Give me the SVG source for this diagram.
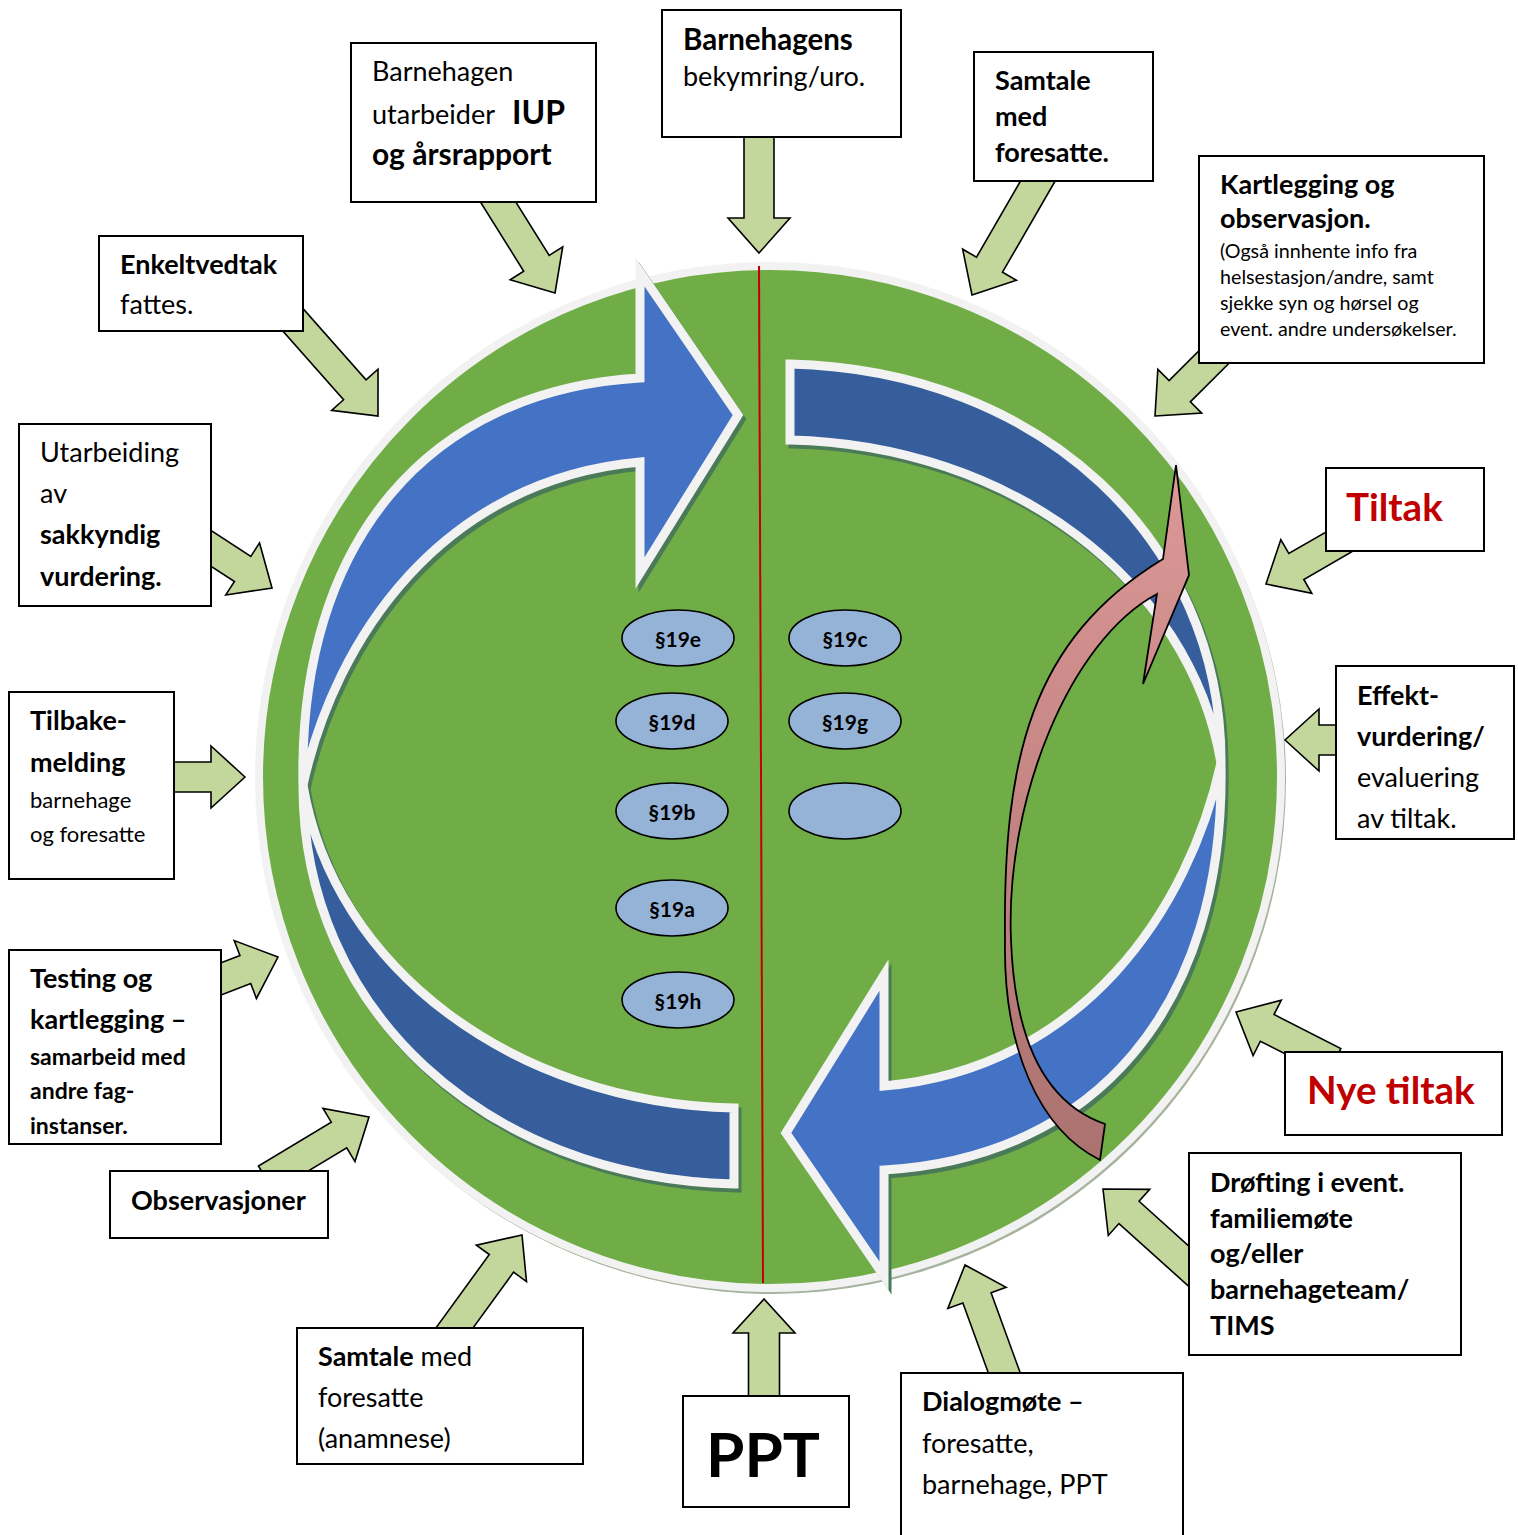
<svg xmlns="http://www.w3.org/2000/svg" width="1518" height="1535" viewBox="0 0 1518 1535">
<defs>
<style>
.t{font-family:Lato,'Liberation Sans',sans-serif;font-size:27px;fill:#000}
.b{font-weight:700}
.s19{font-size:22px}
.s22b{font-size:23px;font-weight:700}
.sm{font-size:19.7px}
.red{fill:#C00000;font-weight:700;font-size:38.5px}
.box{fill:#fff;stroke:#000;stroke-width:2}
.ga{fill:#C3D69B;stroke:#000;stroke-width:1.6;stroke-linejoin:miter}
.ov{fill:#95B3D7;stroke:#000;stroke-width:1.6}
.ot{font-family:Lato,'Liberation Sans',sans-serif;font-size:21px;font-weight:700;text-anchor:middle;fill:#000}
.light{fill:#4472C4;stroke:#F2F2F2;stroke-width:9;stroke-linejoin:miter}
.dark{fill:#365E9C;stroke:#F2F2F2;stroke-width:9;stroke-linejoin:miter}
.sh{fill:#4B7A58;stroke:#4B7A58;stroke-width:9}
</style>
<linearGradient id="pink" x1="0" y1="0" x2="0" y2="1">
<stop offset="0" stop-color="#DC9896"/>
<stop offset="1" stop-color="#AB7270"/>
</linearGradient>
<clipPath id="clipg"><rect x="780" y="690" width="130" height="44"/></clipPath>
<path id="ulArrow" d="M 303,785 C 298,540 430,390 640,378 L 640,272 L 738,415 L 640,573 L 640,462 C 440,480 335,640 303,785 Z"/>
<path id="urBand" d="M 790,364 C 1040,370 1222,540 1221,763 C 1190,580 1010,445 790,440 Z"/>
</defs>

<g id="cycle">
<circle cx="772" cy="780" r="514" fill="#A7B39E"/>
<circle cx="770" cy="777" r="511" fill="#70AD47" stroke="#F2F2F2" stroke-width="8"/>
<line x1="759" y1="266" x2="763" y2="1283" stroke="#C00000" stroke-width="2"/>
<g transform="translate(3,4)">
<use href="#ulArrow" class="sh"/>
<use href="#urBand" class="sh"/>
<g transform="rotate(180 762 774)"><use href="#ulArrow" class="sh"/><use href="#urBand" class="sh"/></g>
</g>
<use href="#urBand" class="dark"/>
<use href="#ulArrow" class="light"/>
<g transform="rotate(180 762 774)">
<use href="#urBand" class="dark"/>
<use href="#ulArrow" class="light"/>
</g>
</g>

<g id="paragraphs">
<g id="p19e"><ellipse class="ov" cx="678" cy="638" rx="56" ry="28"/><text class="ot" x="678" y="647">§19e</text></g>
<g id="p19c"><ellipse class="ov" cx="845" cy="638" rx="56" ry="28"/><text class="ot" x="845" y="647">§19c</text></g>
<g id="p19d"><ellipse class="ov" cx="672" cy="721" rx="56" ry="28"/><text class="ot" x="672" y="730">§19d</text></g>
<g id="p19g"><ellipse class="ov" cx="845" cy="721" rx="56" ry="28"/><text class="ot" x="845" y="730" clip-path="url(#clipg)">§19g</text></g>
<g id="p19b"><ellipse class="ov" cx="672" cy="811" rx="56" ry="28"/><text class="ot" x="672" y="820">§19b</text></g>
<g id="pempty"><ellipse class="ov" cx="845" cy="811" rx="56" ry="28"/></g>
<g id="p19a"><ellipse class="ov" cx="672" cy="908" rx="56" ry="28"/><text class="ot" x="672" y="917">§19a</text></g>
<g id="p19h"><ellipse class="ov" cx="678" cy="1000" rx="56" ry="28"/><text class="ot" x="678" y="1009">§19h</text></g>
</g>

<g id="pinkArrow">
<path d="M 1176,465 L 1189,575 L 1143,684 L 1157,594 C 1070,640 1005,800 1011,940 C 1015,1050 1050,1105 1105,1124 L 1100,1160 C 1040,1130 1003,1050 1005,940 C 1003,760 1030,640 1163,559 Z" fill="url(#pink)" stroke="#000" stroke-width="1.8" stroke-linejoin="miter"/>
</g>

<g id="connectors">
<path class="ga" transform="translate(759,253) rotate(90)" d="M0,0 L-35,-31 L-35,-15 L-125,-15 L-125,15 L-35,15 L-35,31 Z"/>
<path class="ga" transform="translate(972,295) rotate(120)" d="M0,0 L-35,-31 L-35,-15 L-145,-15 L-145,15 L-35,15 L-35,31 Z"/>
<path class="ga" transform="translate(555,293) rotate(58)" d="M0,0 L-35,-31 L-35,-15 L-125,-15 L-125,15 L-35,15 L-35,31 Z"/>
<path class="ga" transform="translate(378,416) rotate(48.5)" d="M0,0 L-35,-31 L-35,-15 L-130,-15 L-130,15 L-35,15 L-35,31 Z"/>
<path class="ga" transform="translate(272,588) rotate(33)" d="M0,0 L-35,-31 L-35,-15 L-90,-15 L-90,15 L-35,15 L-35,31 Z"/>
<path class="ga" transform="translate(245,777) rotate(0)" d="M0,0 L-34,-31 L-34,-15 L-80,-15 L-80,15 L-34,15 L-34,31 Z"/>
<path class="ga" transform="translate(278,957) rotate(-21)" d="M0,0 L-35,-31 L-35,-15 L-75,-15 L-75,15 L-35,15 L-35,31 Z"/>
<path class="ga" transform="translate(369,1117) rotate(-31)" d="M0,0 L-35,-31 L-35,-15 L-120,-15 L-120,15 L-35,15 L-35,31 Z"/>
<path class="ga" transform="translate(522,1235) rotate(-54)" d="M0,0 L-35,-31 L-35,-15 L-125,-15 L-125,15 L-35,15 L-35,31 Z"/>
<path class="ga" transform="translate(764,1299) rotate(-90)" d="M0,0 L-34,-31 L-34,-15.5 L-105,-15.5 L-105,15.5 L-34,15.5 L-34,31 Z"/>
<path class="ga" transform="translate(965,1265) rotate(-110)" d="M0,0 L-35,-31 L-35,-15 L-125,-15 L-125,15 L-35,15 L-35,31 Z"/>
<path class="ga" transform="translate(1103,1189) rotate(-138)" d="M0,0 L-35,-31 L-35,-15 L-130,-15 L-130,15 L-35,15 L-35,31 Z"/>
<path class="ga" transform="translate(1236,1012) rotate(-153)" d="M0,0 L-35,-31 L-35,-15 L-110,-15 L-110,15 L-35,15 L-35,31 Z"/>
<path class="ga" transform="translate(1285,740) rotate(180)" d="M0,0 L-34,-31 L-34,-15 L-65,-15 L-65,15 L-34,15 L-34,31 Z"/>
<path class="ga" transform="translate(1266,584) rotate(150)" d="M0,0 L-35,-31 L-35,-15 L-90,-15 L-90,15 L-35,15 L-35,31 Z"/>
<path class="ga" transform="translate(1155,416) rotate(135)" d="M0,0 L-35,-31 L-35,-15 L-90,-15 L-90,15 L-35,15 L-35,31 Z"/>
</g>

<g id="n-iup"><rect class="box" x="351" y="43" width="245" height="159"/>
<text class="t" x="372" y="81">Barnehagen</text>
<text class="t" x="372" y="124">utarbeider <tspan class="b" x="512" style="font-size:32px">IUP</tspan></text>
<text class="t b" x="372" y="165" style="font-size:30px">og årsrapport</text></g>

<g id="n-bekymring"><rect class="box" x="662" y="10" width="239" height="127"/>
<text class="t b" x="683" y="50" style="font-size:29.5px">Barnehagens</text>
<text class="t" x="683" y="86">bekymring/uro.</text></g>

<g id="n-samtale"><rect class="box" x="974" y="52" width="179" height="129"/>
<text class="t b" x="995" y="90">Samtale</text>
<text class="t b" x="995" y="126">med</text>
<text class="t b" x="995" y="162">foresatte.</text></g>

<g id="n-kartlegging"><rect class="box" x="1199" y="156" width="285" height="207"/>
<text class="t b" x="1220" y="194">Kartlegging og</text>
<text class="t b" x="1220" y="228">observasjon.</text>
<text class="t sm" x="1220" y="258">(Også innhente info fra</text>
<text class="t sm" x="1220" y="284">helsestasjon/andre, samt</text>
<text class="t sm" x="1220" y="310">sjekke syn og hørsel og</text>
<text class="t sm" x="1220" y="336">event. andre undersøkelser.</text></g>

<g id="n-enkeltvedtak"><rect class="box" x="99" y="236" width="204" height="95"/>
<text class="t b" x="120" y="274">Enkeltvedtak</text>
<text class="t" x="120" y="314">fattes.</text></g>

<g id="n-sakkyndig"><rect class="box" x="19" y="424" width="192" height="182"/>
<text class="t" x="40" y="462">Utarbeiding</text>
<text class="t" x="40" y="503">av</text>
<text class="t b" x="40" y="544">sakkyndig</text>
<text class="t b" x="40" y="586">vurdering.</text></g>

<g id="n-tiltak"><rect class="box" x="1326" y="468" width="158" height="83"/>
<text class="t red" x="1346" y="521">Tiltak</text></g>

<g id="n-effekt"><rect class="box" x="1336" y="666" width="178" height="173"/>
<text class="t b" x="1357" y="705">Effekt-</text>
<text class="t b" x="1357" y="746">vurdering/</text>
<text class="t" x="1357" y="787">evaluering</text>
<text class="t" x="1357" y="828">av tiltak.</text></g>

<g id="n-tilbakemelding"><rect class="box" x="9" y="692" width="165" height="187"/>
<text class="t b" x="30" y="730">Tilbake-</text>
<text class="t b" x="30" y="772">melding</text>
<text class="t s19" x="30" y="808">barnehage</text>
<text class="t s19" x="30" y="842">og foresatte</text></g>

<g id="n-testing"><rect class="box" x="9" y="950" width="212" height="194"/>
<text class="t b" x="30" y="988">Testing og</text>
<text class="t b" x="30" y="1029">kartlegging –</text>
<text class="t s22b" x="30" y="1065">samarbeid med</text>
<text class="t s22b" x="30" y="1099">andre fag-</text>
<text class="t s22b" x="30" y="1134">instanser.</text></g>

<g id="n-observasjoner"><rect class="box" x="110" y="1171" width="218" height="67"/>
<text class="t b" x="131" y="1210">Observasjoner</text></g>

<g id="n-anamnese"><rect class="box" x="297" y="1328" width="286" height="136"/>
<text class="t" x="318" y="1366"><tspan class="b">Samtale</tspan> med</text>
<text class="t" x="318" y="1407">foresatte</text>
<text class="t" x="318" y="1448">(anamnese)</text></g>

<g id="n-ppt"><rect class="box" x="683" y="1396" width="166" height="111"/>
<text class="t b" x="763" y="1477" text-anchor="middle" style="font-size:62px">PPT</text></g>

<g id="n-dialog"><rect class="box" x="901" y="1373" width="282" height="170"/>
<text class="t b" x="922" y="1411">Dialogmøte –</text>
<text class="t" x="922" y="1453">foresatte,</text>
<text class="t" x="922" y="1494">barnehage, PPT</text></g>

<g id="n-nyetiltak"><rect class="box" x="1285" y="1052" width="217" height="83"/>
<text class="t red" x="1307" y="1104">Nye tiltak</text></g>

<g id="n-drofting"><rect class="box" x="1189" y="1153" width="272" height="202"/>
<text class="t b" x="1210" y="1192">Drøfting i event.</text>
<text class="t b" x="1210" y="1228">familiemøte</text>
<text class="t b" x="1210" y="1263">og/eller</text>
<text class="t b" x="1210" y="1299">barnehageteam/</text>
<text class="t b" x="1210" y="1335">TIMS</text></g>
</svg>
